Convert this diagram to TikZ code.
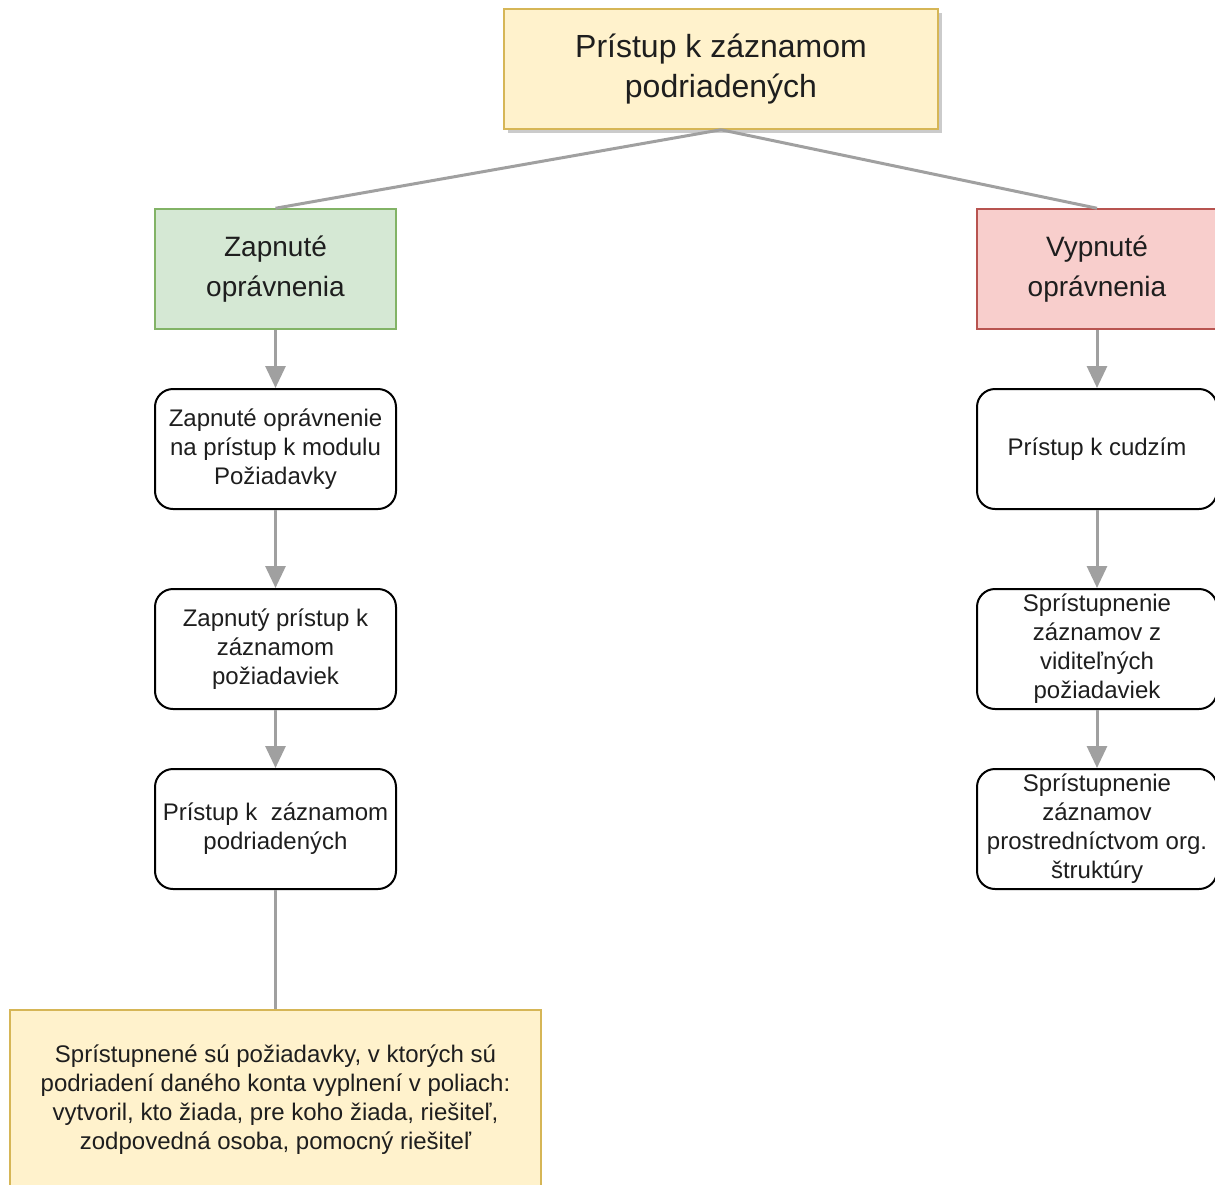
\documentclass[tikz,border=0pt]{standalone}
\usepackage{fontspec}
\setmainfont{Liberation Sans}
\usetikzlibrary{arrows.meta,shadows}
\definecolor{yelfill}{HTML}{FFF2CC}
\definecolor{yelline}{HTML}{D6B656}
\definecolor{grnfill}{HTML}{D5E8D4}
\definecolor{grnline}{HTML}{82B366}
\definecolor{redfill}{HTML}{F8CECC}
\definecolor{redline}{HTML}{B85450}
\definecolor{conn}{HTML}{A0A0A0}
\definecolor{txt}{HTML}{1E1E1E}
\begin{document}
\begin{tikzpicture}[x=1pt,y=-1pt,
  every node/.style={text=txt, align=center, inner sep=0pt},
  topbox/.style={draw=yelline, fill=yelfill, line width=1.5pt, minimum width=434pt, minimum height=120pt,
     font=\fontsize{32}{40}\selectfont,
     drop shadow={shadow xshift=4pt, shadow yshift=-4pt, fill=black!40, opacity=0.5}},
  grnbox/.style={draw=grnline, fill=grnfill, line width=1.5pt, minimum width=241pt, minimum height=120pt,
     font=\fontsize{28}{40}\selectfont},
  redbox/.style={draw=redline, fill=redfill, line width=1.5pt, minimum width=240pt, minimum height=120pt,
     font=\fontsize{28}{40}\selectfont},
  stepbox/.style={draw=black, fill=white, line width=2pt, rounded corners=18pt, minimum width=241pt, minimum height=120pt,
     font=\fontsize{24}{29}\selectfont},
  notebox/.style={draw=yelline, fill=yelfill, line width=1.5pt, minimum width=531pt, minimum height=180pt,
     font=\fontsize{24}{29}\selectfont},
  link/.style={draw=conn, line width=3pt},
  arrowlink/.style={link, -{Triangle[length=22pt,width=20pt]}}
]
\clip (0,0) rectangle (1215,1184);
\fill[white] (0,0) rectangle (1215,1184);

\node[topbox] (top) at (721,69) {Prístup k záznamom\\podriadených};

\node[grnbox] (on) at (275.5,269) {Zapnuté\\oprávnenia};
\node[redbox] (off) at (1097,269) {Vypnuté\\oprávnenia};

\node[stepbox] (l1) at (275.5,449) {Zapnuté oprávnenie\\na prístup k modulu\\Požiadavky};
\node[stepbox] (l2) at (275.5,649) {Zapnutý prístup k\\záznamom\\požiadaviek};
\node[stepbox] (l3) at (275.5,829) {Prístup k~ záznamom\\podriadených};

\node[stepbox, minimum width=240pt] (r1) at (1097,449) {Prístup k cudzím};
\node[stepbox, minimum width=240pt] (r2) at (1097,649) {Sprístupnenie\\záznamov z\\viditeľných\\požiadaviek};
\node[stepbox, minimum width=240pt] (r3) at (1097,829) {Sprístupnenie\\záznamov\\prostredníctvom org.\\štruktúry};

\node[notebox] (note) at (275.5,1100) {Sprístupnené sú požiadavky, v ktorých sú\\podriadení daného konta vyplnení v poliach:\\vytvoril, kto žiada, pre koho žiada, riešiteľ,\\zodpovedná osoba, pomocný riešiteľ};

\draw[link] (top.south) -- (on.north);
\draw[link] (top.south) -- (off.north);

\draw[arrowlink] (on.south) -- (l1.north);
\draw[arrowlink] (l1.south) -- (l2.north);
\draw[arrowlink] (l2.south) -- (l3.north);
\draw[link] (l3.south) -- (note.north);

\draw[arrowlink] (off.south) -- (r1.north);
\draw[arrowlink] (r1.south) -- (r2.north);
\draw[arrowlink] (r2.south) -- (r3.north);
\end{tikzpicture}
\end{document}
